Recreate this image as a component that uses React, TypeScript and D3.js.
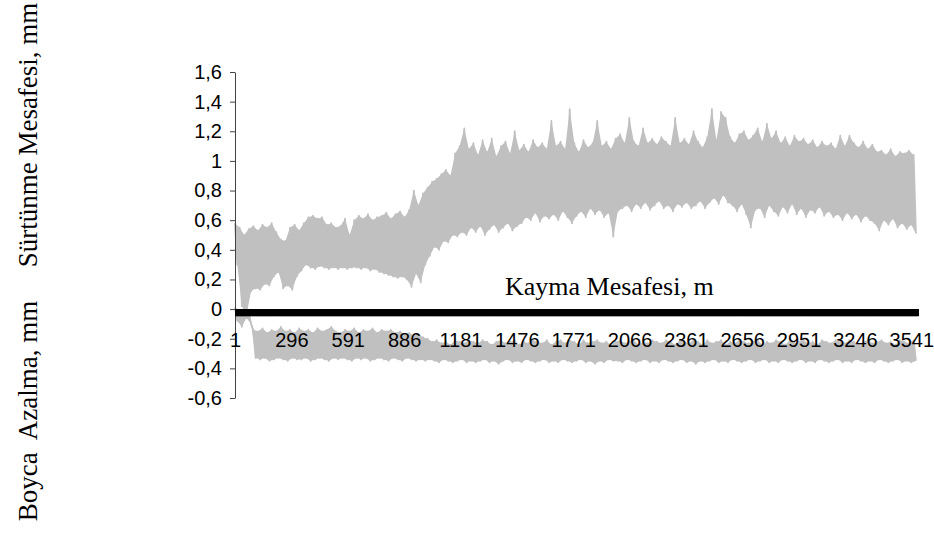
import React, { useRef, useEffect, useCallback } from 'react'
import * as d3 from 'd3'

// readings are taken every 12th point (1, 13, 25 ...), alternating peak / trough
const categoryCount = 3576
const sampleStep = 12
const xTickLabels = [1, 296, 591, 886, 1181, 1476, 1771, 2066, 2361, 2656, 2951, 3246, 3541]
const yTicks = [1.6, 1.4, 1.2, 1, 0.8, 0.6, 0.4, 0.2, 0, -0.2, -0.4, -0.6]

// Sürtünme Mesafesi, mm
const surtunme = [
  0.58, 0.30, 0.55, 0.02, 0.50, -0.04, 0.54, 0.12, 0.56, 0.14, 0.53, 0.13, 0.57, 0.17, 0.55, 0.16, 0.58, 0.22, 0.52, 0.25,
  0.47, 0.14, 0.46, 0.16, 0.55, 0.13, 0.57, 0.22, 0.53, 0.26, 0.58, 0.30, 0.62, 0.28, 0.63, 0.27, 0.61, 0.29, 0.62, 0.28,
  0.57, 0.27, 0.58, 0.28, 0.55, 0.27, 0.56, 0.28, 0.61, 0.27, 0.50, 0.28, 0.60, 0.28, 0.63, 0.27, 0.61, 0.28, 0.64, 0.26,
  0.60, 0.27, 0.62, 0.25, 0.63, 0.24, 0.65, 0.23, 0.61, 0.22, 0.64, 0.21, 0.66, 0.22, 0.62, 0.20, 0.67, 0.15, 0.80, 0.24,
  0.70, 0.18, 0.78, 0.30, 0.82, 0.36, 0.86, 0.42, 0.88, 0.40, 0.91, 0.46, 0.94, 0.45, 0.90, 0.50, 1.05, 0.49, 1.10, 0.52,
  1.22, 0.50, 1.08, 0.55, 1.12, 0.52, 1.04, 0.56, 1.14, 0.50, 1.06, 0.54, 1.15, 0.57, 1.03, 0.52, 1.10, 0.55, 1.13, 0.58,
  1.05, 0.53, 1.20, 0.56, 1.07, 0.58, 1.11, 0.62, 1.06, 0.60, 1.14, 0.65, 1.09, 0.59, 1.12, 0.63, 1.08, 0.61, 1.27, 0.64,
  1.10, 0.60, 1.13, 0.66, 1.08, 0.62, 1.35, 0.58, 1.12, 0.63, 1.06, 0.66, 1.14, 0.62, 1.09, 0.68, 1.12, 0.64, 1.27, 0.67,
  1.10, 0.62, 1.13, 0.65, 1.08, 0.49, 1.15, 0.66, 1.18, 0.68, 1.12, 0.70, 1.29, 0.66, 1.13, 0.71, 1.10, 0.68, 1.22, 0.72,
  1.12, 0.67, 1.15, 0.70, 1.11, 0.73, 1.16, 0.68, 1.13, 0.70, 1.10, 0.66, 1.29, 0.71, 1.12, 0.69, 1.15, 0.72, 1.11, 0.68,
  1.20, 0.70, 1.13, 0.73, 1.09, 0.68, 1.16, 0.72, 1.35, 0.75, 1.14, 0.71, 1.33, 0.77, 1.29, 0.72, 1.16, 0.70, 1.12, 0.66,
  1.18, 0.71, 1.20, 0.64, 1.14, 0.55, 1.17, 0.67, 1.22, 0.68, 1.13, 0.62, 1.25, 0.70, 1.15, 0.66, 1.20, 0.63, 1.12, 0.69,
  1.16, 0.65, 1.10, 0.71, 1.17, 0.64, 1.13, 0.68, 1.15, 0.62, 1.11, 0.67, 1.14, 0.65, 1.09, 0.69, 1.13, 0.63, 1.10, 0.66,
  1.12, 0.62, 1.08, 0.64, 1.17, 0.60, 1.10, 0.65, 1.17, 0.61, 1.12, 0.64, 1.09, 0.59, 1.13, 0.63, 1.08, 0.60, 1.11, 0.58,
  1.06, 0.53, 1.07, 0.60, 1.04, 0.57, 1.08, 0.61, 1.03, 0.55, 1.06, 0.58, 1.05, 0.54, 1.07, 0.57, 1.04, 0.51,
]

// Boyca Azalma, mm
const boyca = [
  0.01, -0.08, -0.01, -0.12, 0.00, -0.06, -0.02, -0.10,
  -0.14, -0.33, -0.15, -0.34, -0.13, -0.33, -0.16, -0.35, -0.14, -0.34, -0.15, -0.33, -0.12, -0.34, -0.15, -0.35, -0.14, -0.33, -0.16, -0.34,
  -0.13, -0.34, -0.15, -0.33, -0.14, -0.35, -0.16, -0.34, -0.13, -0.33, -0.15, -0.34, -0.14, -0.35, -0.12, -0.33, -0.15, -0.34, -0.16, -0.33,
  -0.14, -0.34, -0.15, -0.35, -0.13, -0.33, -0.16, -0.34, -0.14, -0.33, -0.15, -0.35, -0.13, -0.34, -0.16, -0.33, -0.14, -0.34, -0.15, -0.35,
  -0.14, -0.33, -0.16, -0.34, -0.15, -0.35, -0.17, -0.33, -0.16, -0.34, -0.18, -0.35, -0.17, -0.34, -0.19, -0.35, -0.20, -0.34,
  -0.22, -0.35, -0.21, -0.36, -0.23, -0.34, -0.22, -0.35, -0.24, -0.36, -0.21, -0.35, -0.22, -0.34, -0.23, -0.36, -0.21, -0.35, -0.22, -0.36,
  -0.23, -0.35, -0.21, -0.34, -0.22, -0.36, -0.24, -0.35, -0.22, -0.37, -0.21, -0.35, -0.23, -0.34, -0.22, -0.36, -0.21, -0.35, -0.24, -0.36,
  -0.22, -0.34, -0.23, -0.35, -0.21, -0.36, -0.22, -0.35, -0.23, -0.34, -0.21, -0.36, -0.24, -0.35, -0.22, -0.36, -0.21, -0.34, -0.23, -0.35,
  -0.21, -0.36, -0.22, -0.35, -0.24, -0.34, -0.21, -0.36, -0.23, -0.35, -0.22, -0.37, -0.21, -0.35, -0.23, -0.36, -0.22, -0.34, -0.24, -0.35,
  -0.22, -0.35, -0.21, -0.36, -0.23, -0.34, -0.22, -0.35, -0.21, -0.36, -0.24, -0.35, -0.22, -0.34, -0.23, -0.36, -0.21, -0.35, -0.22, -0.36,
  -0.23, -0.34, -0.21, -0.35, -0.22, -0.36, -0.24, -0.35, -0.21, -0.34, -0.22, -0.36, -0.23, -0.35, -0.21, -0.37, -0.22, -0.35, -0.24, -0.36,
  -0.21, -0.35, -0.23, -0.34, -0.22, -0.36, -0.21, -0.35, -0.24, -0.36, -0.22, -0.34, -0.23, -0.35, -0.21, -0.36, -0.22, -0.35, -0.23, -0.34,
  -0.22, -0.36, -0.21, -0.35, -0.24, -0.34, -0.22, -0.36, -0.23, -0.35, -0.21, -0.36, -0.22, -0.34, -0.24, -0.35, -0.21, -0.36, -0.23, -0.35,
  -0.22, -0.34, -0.21, -0.36, -0.23, -0.35, -0.22, -0.36, -0.24, -0.34, -0.21, -0.35, -0.22, -0.36, -0.23, -0.35, -0.21, -0.34, -0.22, -0.36,
  -0.23, -0.35, -0.21, -0.36, -0.22, -0.34, -0.24, -0.35, -0.22, -0.36, -0.21, -0.35, -0.23, -0.36, -0.22, -0.34, -0.21, -0.35, -0.23, -0.36,
  -0.22, -0.35, -0.24, -0.34, -0.21, -0.36, -0.22, -0.35, -0.23, -0.36, -0.21, -0.35,
]

const W = 934
const H = 534
const GREY = '#c0c0c0'
const SANS = 'Liberation Sans, Arial, sans-serif'
const SERIF = 'Liberation Serif, Times New Roman, serif'

const locale = d3.formatLocale({ decimal: ',', thousands: '.', grouping: [3], currency: ['', ''], minus: '-' })
const fmt = locale.format('~g')

const App = () => {
  const chartRef = useRef<SVGSVGElement | null>(null)

  const drawChart = useCallback(() => {
    if (!chartRef.current) return
    const svg = d3.select(chartRef.current)
    svg.selectAll('*').remove()

    const x = d3.scaleLinear().domain([1, categoryCount]).range([235, 918])
    const y = d3.scaleLinear().domain([-0.6, 1.6]).range([398, 72])
    const cat = (i: number) => 1 + i * sampleStep

    const line = d3.line<number>()
      .x((d, i) => x(cat(i)))
      .y(d => y(d))

    // the readings are far denser than the pixels, so the trace reads as a solid band:
    // fill between each peak and the trough next to it, then draw the trace on top
    const band = d3.area<number>()
      .x1(i => x(cat(i)))
      .y1(i => y(0))
      .x0(i => x(cat(i + 1)))
      .y0(i => y(0))

    ;[surtunme, boyca].forEach(series => {
      const peaks = d3.range(0, series.length - 1, 2)
      svg.append('path')
        .datum(peaks)
        .attr('fill', GREY)
        .attr('d', band.y1(i => y(series[i])).y0(i => y(series[i + 1])))
      svg.append('path')
        .datum(series)
        .attr('fill', 'none')
        .attr('stroke', GREY)
        .attr('stroke-width', 1.8)
        .attr('stroke-linejoin', 'round')
        .attr('d', line)
    })

    // value axis
    const yAxis = svg.append('g')
      .attr('transform', 'translate(235,0)')
      .call(d3.axisLeft(y).tickValues(yTicks).tickSize(5).tickSizeOuter(0).tickPadding(8)
        .tickFormat(d => fmt(d as number)))
    yAxis.select('.domain').attr('stroke', '#444')
    yAxis.selectAll('.tick line').attr('stroke', '#444')
    yAxis.selectAll('text').attr('font-family', SANS).attr('font-size', 20).attr('fill', '#000')

    // category axis: one tick per reading, they merge into a solid band
    const xAxis = svg.append('g')
      .attr('transform', `translate(0,${y(0)})`)
      .call(d3.axisBottom(x).tickValues(d3.range(1, categoryCount + 1)).tickSize(7).tickSizeOuter(0)
        .tickFormat(() => ''))
    xAxis.selectAll('text').remove()
    xAxis.select('.domain').attr('stroke', '#000')
    xAxis.selectAll('.tick line').attr('stroke', '#000')

    const xLabels = svg.append('g')
      .attr('transform', `translate(0,${y(0)})`)
      .call(d3.axisBottom(x).tickValues(xTickLabels).tickSize(0).tickPadding(24).tickFormat(d => String(d)))
    xLabels.select('.domain').remove()
    xLabels.selectAll('text').attr('font-family', SANS).attr('font-size', 20).attr('fill', '#000')

    svg.append('text')
      .attr('x', 505)
      .attr('y', 295)
      .attr('font-family', SERIF)
      .attr('font-size', 26)
      .text('Kayma Mesafesi, m')

    const yTitles = [
      { text: 'Sürtünme Mesafesi, mm', cy: 135 },
      { text: 'Boyca  Azalma, mm', cy: 411 },
    ]
    yTitles.forEach(t => {
      svg.append('text')
        .attr('transform', `translate(37,${t.cy}) rotate(-90)`)
        .attr('text-anchor', 'middle')
        .attr('font-family', SERIF)
        .attr('font-size', 27)
        .style('white-space', 'pre')
        .text(t.text)
    })
  }, [])

  useEffect(() => {
    drawChart()
  }, [drawChart])

  return (
    <svg ref={chartRef} width={W} height={H}
      style={{ position: 'absolute', left: 0, top: 0, background: '#fff' }} />
  )
}

export default App
